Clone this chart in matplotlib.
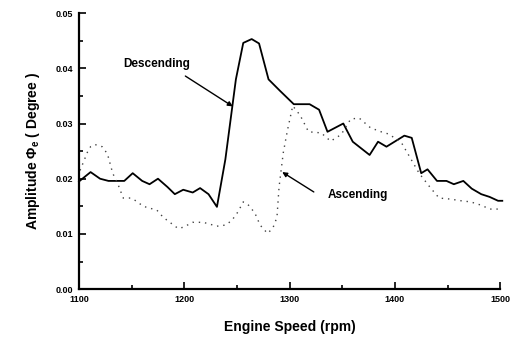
import numpy as np
import matplotlib
matplotlib.use("Agg")
import matplotlib.pyplot as plt
from matplotlib.ticker import MultipleLocator, FormatStrFormatter

plt.rcParams['font.family'] = ['Liberation Sans', 'DejaVu Sans']
plt.rcParams['mathtext.fontset'] = 'custom'
plt.rcParams['mathtext.rm'] = 'Liberation Sans:bold'
plt.rcParams['mathtext.bf'] = 'Liberation Sans:bold'

# Descending sweep (solid line)
desc_rpm = [1100, 1111, 1120, 1128, 1143, 1151, 1160, 1167, 1175, 1184, 1191, 1199,
            1208, 1215, 1223, 1231, 1239, 1249, 1256, 1264, 1271, 1280, 1291, 1304,
            1319, 1328, 1336, 1351, 1360, 1376, 1384, 1392, 1409, 1416, 1425, 1431,
            1440, 1449, 1456, 1465, 1473, 1482, 1490, 1498, 1502]
desc_amp = [0.0195, 0.0212, 0.0200, 0.0196, 0.0196, 0.0210, 0.0196, 0.0190, 0.0200, 0.0185,
            0.0172, 0.0180, 0.0175, 0.0183, 0.0172, 0.0149, 0.0235, 0.0380, 0.0446, 0.0453,
            0.0445, 0.0380, 0.0359, 0.0335, 0.0335, 0.0325, 0.0285, 0.0300, 0.0267, 0.0243,
            0.0267, 0.0258, 0.0278, 0.0274, 0.0210, 0.0217, 0.0196, 0.0196, 0.0190, 0.0196,
            0.0182, 0.0172, 0.0167, 0.0160, 0.0160]

# Ascending sweep (dotted line)
asc_rpm = [1101, 1108, 1111, 1115, 1122, 1127, 1132, 1137, 1142, 1149, 1154, 1161,
           1174, 1180, 1194, 1199, 1208, 1218, 1231, 1239, 1245, 1251, 1256, 1261,
           1267, 1272, 1279, 1284, 1288, 1290, 1294, 1298, 1303, 1310, 1318, 1330,
           1339, 1349, 1358, 1366, 1377, 1387, 1394, 1406, 1413, 1423, 1434, 1442,
           1453, 1463, 1472, 1482, 1490, 1502]
asc_amp = [0.0215, 0.0248, 0.0258, 0.0262, 0.0258, 0.0245, 0.0210, 0.0190, 0.0165, 0.0165,
           0.0160, 0.0150, 0.0143, 0.0130, 0.0110, 0.0112, 0.0121, 0.0121, 0.0114, 0.0116,
           0.0124, 0.0140, 0.0158, 0.0152, 0.0138, 0.0116, 0.0101, 0.0110, 0.0130, 0.0185,
           0.0247, 0.0288, 0.0332, 0.0315, 0.0285, 0.0283, 0.0268, 0.0280, 0.0308, 0.0310,
           0.0292, 0.0285, 0.0281, 0.0266, 0.0243, 0.0210, 0.0183, 0.0165, 0.0163, 0.0160,
           0.0158, 0.0152, 0.0145, 0.0145]

fig = plt.figure(figsize=(5.13, 3.45), dpi=100)
ax = fig.add_axes([0.154, 0.162, 0.821, 0.80])

ax.plot(desc_rpm, desc_amp, color='black', lw=1.3, clip_on=False)
ax.plot(asc_rpm, asc_amp, color='#444444', lw=1.0, linestyle=(0, (1, 3.5)), clip_on=False)

# labels and their arrows
ax.text(1174, 0.0407, 'Descending', ha='center', va='center', fontsize=8.5, fontweight='bold')
ax.annotate('', xy=(1246, 0.0331), xytext=(1201, 0.0386),
            arrowprops=dict(arrowstyle='-|>', color='black', lw=1.0,
                            mutation_scale=7, shrinkA=0, shrinkB=0))
ax.text(1365, 0.0170, 'Ascending', ha='center', va='center', fontsize=8.5, fontweight='bold')
ax.annotate('', xy=(1293, 0.0212), xytext=(1323, 0.0176),
            arrowprops=dict(arrowstyle='-|>', color='black', lw=1.0,
                            mutation_scale=7, shrinkA=0, shrinkB=0))

ax.set_xlim(1100, 1500)
ax.set_ylim(0, 0.05)
ax.xaxis.set_major_locator(MultipleLocator(100))
ax.xaxis.set_minor_locator(MultipleLocator(50))
ax.yaxis.set_major_locator(MultipleLocator(0.01))
ax.yaxis.set_minor_locator(MultipleLocator(0.005))
ax.yaxis.set_major_formatter(FormatStrFormatter('%.2f'))

ax.spines['top'].set_visible(False)
ax.spines['right'].set_visible(False)
ax.spines['left'].set_linewidth(1.6)
ax.spines['bottom'].set_linewidth(1.6)
ax.tick_params(which='both', direction='in', width=1.2)
ax.tick_params(which='major', length=5, labelsize=6.5, pad=4)
ax.tick_params(which='minor', length=3)
for lbl in ax.get_xticklabels() + ax.get_yticklabels():
    lbl.set_fontweight('bold')

ax.set_xlabel('Engine Speed (rpm)', fontsize=10, fontweight='bold', labelpad=12)
ax.set_ylabel(r'Amplitude $\mathrm{\Phi_e}$ ( Degree )', fontsize=10, fontweight='bold', labelpad=10)

fig.savefig('out.png', dpi=100)
